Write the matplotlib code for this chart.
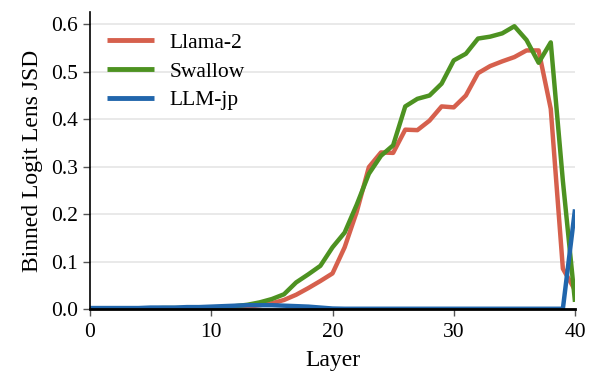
import matplotlib
matplotlib.use("Agg")
import matplotlib.pyplot as plt
import numpy as np

layers = list(range(41))
llama2 = [0.001, 0.001, 0.001, 0.001, 0.001, 0.001, 0.001, 0.001, 0.002, 0.002,
          0.002, 0.003, 0.003, 0.005, 0.008, 0.012, 0.019, 0.030, 0.044, 0.059,
          0.075, 0.130, 0.205, 0.299, 0.330, 0.329, 0.378, 0.377, 0.397, 0.427,
          0.425, 0.450, 0.497, 0.512, 0.522, 0.531, 0.545, 0.545, 0.422, 0.085,
          0.040]
swallow = [0.001, 0.001, 0.001, 0.001, 0.001, 0.001, 0.002, 0.002, 0.002, 0.003,
           0.003, 0.004, 0.006, 0.009, 0.014, 0.021, 0.031, 0.056, 0.073, 0.091,
           0.130, 0.161, 0.220, 0.285, 0.323, 0.345, 0.427, 0.443, 0.450, 0.475,
           0.524, 0.538, 0.570, 0.574, 0.581, 0.596, 0.567, 0.519, 0.562, 0.270,
           0.015]
llmjp = [0.002, 0.002, 0.002, 0.002, 0.002, 0.003, 0.003, 0.003, 0.004, 0.004,
         0.005, 0.006, 0.007, 0.008, 0.008, 0.008, 0.007, 0.006, 0.005, 0.003,
         0.001, 0.0005, 0.0005, 0.0005, 0.0005, 0.0005, 0.0005, 0.0005, 0.0005, 0.0005,
         0.0005, 0.0005, 0.0005, 0.0005, 0.0005, 0.0005, 0.0005, 0.0005, 0.0005, 0.0005,
         0.210]
series_names = ["Llama-2", "Swallow", "LLM-jp"]
colors = ["#d6604d", "#4d9221", "#2166ac"]
xticks = [0, 10, 20, 30, 40]
yticks = [0.0, 0.1, 0.2, 0.3, 0.4, 0.5, 0.6]

plt.rcParams['font.family'] = ['Liberation Serif', 'DejaVu Serif']
fig = plt.figure(figsize=(5.9, 3.76), dpi=100)
ax = fig.add_axes([90/590, 1-309/376, 485/590, 297/376])

for vals, name, c in zip([llama2, swallow, llmjp], series_names, colors):
    ax.plot(layers, vals, color=c, lw=3.2, label=name, solid_capstyle='butt')

ax.set_xlim(0, 40)
ax.set_ylim(0, 0.626)
ax.set_xticks(xticks)
ax.set_yticks(yticks)
ax.set_yticklabels([f"{v:.1f}" for v in yticks])
ax.yaxis.grid(True, color='#e5e5e5', lw=1.2)
ax.set_axisbelow(True)
for s in ['top', 'right']:
    ax.spines[s].set_visible(False)
ax.spines['left'].set_linewidth(1.2)
ax.spines['bottom'].set_linewidth(2.0)
ax.tick_params(axis='both', labelsize=15.5, color='#555555', length=5, width=1)
ax.tick_params(axis='x', pad=5)
ax.set_xlabel("Layer", fontsize=17, labelpad=6)
ax.set_ylabel("Binned Logit Lens JSD", fontsize=17, labelpad=6)
leg = ax.legend(loc='upper left', frameon=False, fontsize=15.5, handlelength=2.2,
                handletextpad=0.7, labelspacing=0.4,
                bbox_to_anchor=(-0.005, 0.995))
for l in leg.get_lines():
    l.set_linewidth(3.5)
fig.savefig("out.png", dpi=100)
